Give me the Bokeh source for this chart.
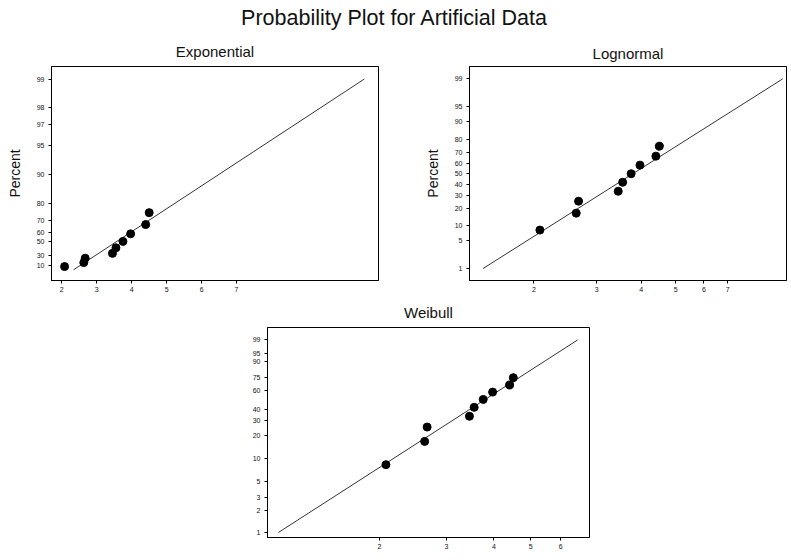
import math
from statistics import NormalDist
from bokeh.plotting import figure
from bokeh.layouts import column, row
from bokeh.models import Range1d, FixedTicker, Div
from bokeh.embed import file_html
from bokeh.resources import INLINE

# ---------------- data ----------------
main_title = "Probability Plot for Artificial Data"
panel_titles = ["Exponential", "Lognormal", "Weibull"]
y_label = "Percent"

failure_times = [2.08, 2.63, 2.67, 3.45, 3.55, 3.75, 3.97, 4.40, 4.50]
percents = [8.33, 16.67, 25.0, 33.33, 41.67, 50.0, 58.33, 66.67, 75.0]

fit_percents = [1, 99]
exp_threshold, exp_scale = 2.32, 1.81
logn_loc, logn_scale = 1.333, 0.416
weib_shape, weib_scale = 3.38, 4.23

exp_xticks = [2, 3, 4, 5, 6, 7]
logn_xticks = [2, 3, 4, 5, 6, 7]
weib_xticks = [2, 3, 4, 5, 6]
exp_yticks = [10, 30, 50, 60, 70, 80, 90, 95, 97, 98, 99]
logn_yticks = [1, 5, 10, 20, 30, 40, 50, 60, 70, 80, 90, 95, 99]
weib_yticks = [1, 2, 3, 5, 10, 20, 30, 40, 60, 75, 90, 95, 99]

FONT = "Liberation Sans"


# ------------- probability transforms -------------
def t_exp(p):
    return -math.log(1 - p / 100.0)


def t_norm(p):
    return NormalDist().inv_cdf(p / 100.0)


def t_weib(p):
    return math.log(-math.log(1 - p / 100.0))


def style(p, xticks, yticks, ytrans, ylabel, standoff):
    p.xgrid.visible = False
    p.ygrid.visible = False
    p.outline_line_color = "black"
    p.outline_line_width = 1
    p.outline_line_alpha = 1
    p.background_fill_color = "white"
    p.border_fill_color = "white"
    p.title.text_font = FONT
    p.title.text_font_size = "15px"
    p.title.text_font_style = "normal"
    p.title.align = "center"
    p.title.vertical_align = "top"
    p.title.text_color = "#111111"
    p.title.standoff = standoff

    p.xaxis.ticker = FixedTicker(ticks=xticks)
    p.xaxis.major_label_overrides = {float(v): str(v) for v in xticks}
    ykeys = [round(ytrans(v), 9) for v in yticks]
    p.yaxis.ticker = FixedTicker(ticks=ykeys)
    p.yaxis.major_label_overrides = {k: str(v) for k, v in zip(ykeys, yticks)}
    for ax in (p.xaxis[0], p.yaxis[0]):
        ax.axis_line_color = "black"
        ax.major_tick_in = 0
        ax.major_tick_out = 3
        ax.minor_tick_line_color = None
        ax.major_tick_line_color = "black"
        ax.major_label_text_font = FONT
        ax.major_label_text_font_size = "7px"
        ax.major_label_text_color = "#111111"
        ax.major_label_standoff = 3
    p.yaxis.major_label_standoff = 4
    if ylabel:
        p.yaxis.axis_label = ylabel
        p.yaxis.axis_label_text_font = FONT
        p.yaxis.axis_label_text_font_size = "14px"
        p.yaxis.axis_label_text_font_style = "normal"
        p.yaxis.axis_label_text_color = "#111111"
        p.yaxis.axis_label_standoff = 11


# ------------- title strip -------------
pt = Div(text=main_title, width=788, height=37,
         styles={"text-align": "center", "font-family": FONT, "font-size": "21.5px",
                 "color": "#111111", "line-height": "22px", "width": "788px",
                 "padding-top": "7px", "margin": "0px", "box-sizing": "border-box"})

# ------------- Exponential -------------
p1 = figure(frame_width=327, frame_height=214, title=panel_titles[0],
            x_range=Range1d(1.706, 11.06), y_range=Range1d(-0.249, 4.907),
            output_backend="svg", toolbar_location=None,
            min_border_left=51, min_border_right=29, min_border_top=29, min_border_bottom=17)
style(p1, exp_xticks, exp_yticks, t_exp, y_label, 10)
fx1 = [exp_threshold + exp_scale * t_exp(q) for q in fit_percents]
fy1 = [t_exp(q) for q in fit_percents]
p1.line(fx1, fy1, line_color="black", line_width=0.8)
p1.scatter(failure_times, [t_exp(q) for q in percents], size=8, color="black")

# ------------- Lognormal -------------
p2 = figure(frame_width=317, frame_height=214, title=panel_titles[1],
            x_axis_type="log",
            x_range=Range1d(1.32, 10.23), y_range=Range1d(-2.62, 2.63),
            output_backend="svg", toolbar_location=None,
            min_border_left=62, min_border_right=1, min_border_top=25, min_border_bottom=21)
style(p2, logn_xticks, logn_yticks, t_norm, y_label, 6)
fx2 = [math.exp(logn_loc + logn_scale * t_norm(q)) for q in fit_percents]
fy2 = [t_norm(q) for q in fit_percents]
p2.line(fx2, fy2, line_color="black", line_width=0.8)
p2.scatter(failure_times, [t_norm(q) for q in percents], size=8, color="black")

# ------------- Weibull -------------
p3 = figure(frame_width=322, frame_height=210, title=panel_titles[2],
            x_axis_type="log",
            x_range=Range1d(1.015, 7.14), y_range=Range1d(-4.76, 1.923),
            output_backend="svg", toolbar_location=None,
            min_border_left=267, min_border_right=10, min_border_top=30, min_border_bottom=12)
style(p3, weib_xticks, weib_yticks, t_weib, None, 10)
fx3 = [weib_scale * math.exp(t_weib(q) / weib_shape) for q in fit_percents]
fy3 = [t_weib(q) for q in fit_percents]
p3.line(fx3, fy3, line_color="black", line_width=0.8)
p3.scatter(failure_times, [t_weib(q) for q in percents], size=8, color="black")

layout = column(pt, row(p1, p2), p3)
open("out.html", "w").write(file_html(layout, INLINE))
